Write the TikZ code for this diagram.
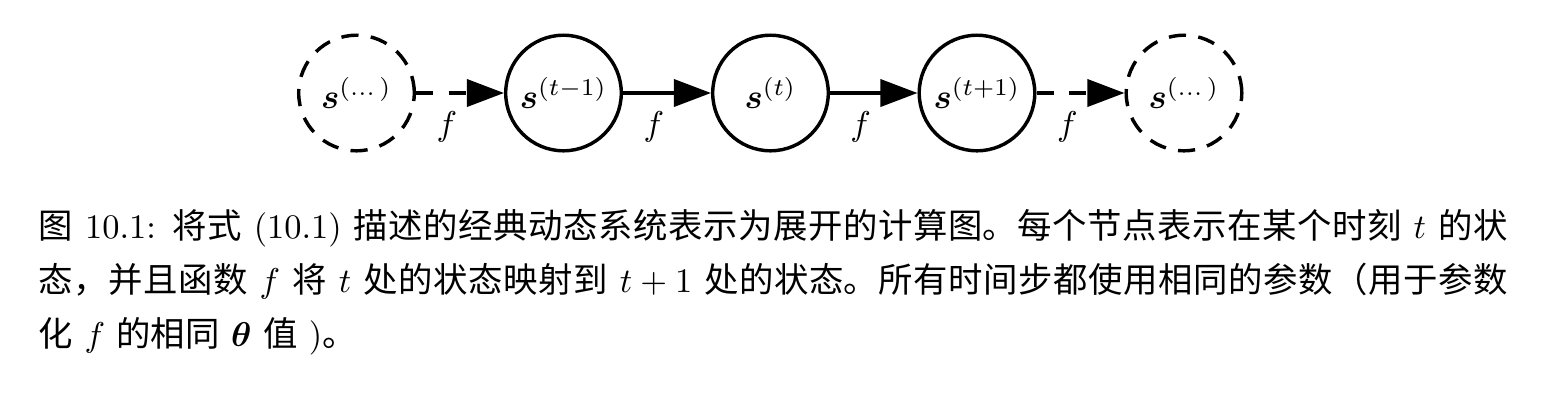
\documentclass[tikz,border=0pt]{standalone}
\usepackage{amsmath,bm}
\usepackage{fontspec}
\newfontfamily\cjk{Noto Sans CJK SC}
\usetikzlibrary{arrows.meta}
\tikzset{
  stnode/.style={circle, draw, line width=1pt, minimum size=33.6pt, inner sep=0pt, font=\normalsize},
  dashnode/.style={stnode, dash pattern=on 5pt off 3.6pt},
  conn/.style={line width=1pt, -{Triangle[length=10.8pt,width=7.9pt]}},
  dconn/.style={conn, dash pattern=on 5pt off 4.5pt},
  flabel/.style={pos=0.35, below=1.5pt},
  captext/.style={anchor=base west, inner sep=0pt, text width=427pt, align=justify, font=\normalsize}
}
\begin{document}
\begin{tikzpicture}[x=0.2907pt, y=-0.2907pt]
\useasboundingbox (0,0) rectangle (1546,418);
\node[dashnode] (a) at (356.5,93) {$\bm{s}^{(\dots)}$};
\node[stnode]   (b) at (563.5,93) {$\bm{s}^{(t-1)}$};
\node[stnode]   (c) at (770.5,93) {$\bm{s}^{(t)}$};
\node[stnode]   (d) at (977,93)   {$\bm{s}^{(t+1)}$};
\node[dashnode] (e) at (1184,93)  {$\bm{s}^{(\dots)}$};
\draw[dconn] (a) -- node[flabel] (fa) {$f$} (b);
\draw[conn]  (b) -- node[flabel] (fb) {$f$} (c);
\draw[conn]  (c) -- node[flabel] (fc) {$f$} (d);
\draw[dconn] (d) -- node[flabel] (fd) {$f$} (e);
\node[captext] (cap) at (38,238) {\XeTeXlinebreaklocale "zh"\XeTeXlinebreakskip=0pt plus 1.5pt\baselineskip=15.7pt\lineskip=0pt\lineskiplimit=-5pt\parindent=0pt
{\cjk 图} 10.1: {\cjk 将式} (10.1) {\cjk 描述的经典动态系统表示为展开的计算图。每个节点表示在某个时刻} $t$ {\cjk 的状}\linebreak
{\cjk 态，并且函数} $f$ {\cjk 将} $t$ {\cjk 处的状态映射到} $t+1$ {\cjk 处的状态。所有时间步都使用相同的参数（用于参数}\linebreak
{\cjk 化} $f$ {\cjk 的相同} $\bm{\theta}$ {\cjk 值} ){\cjk 。}\par};
\end{tikzpicture}
\end{document}
